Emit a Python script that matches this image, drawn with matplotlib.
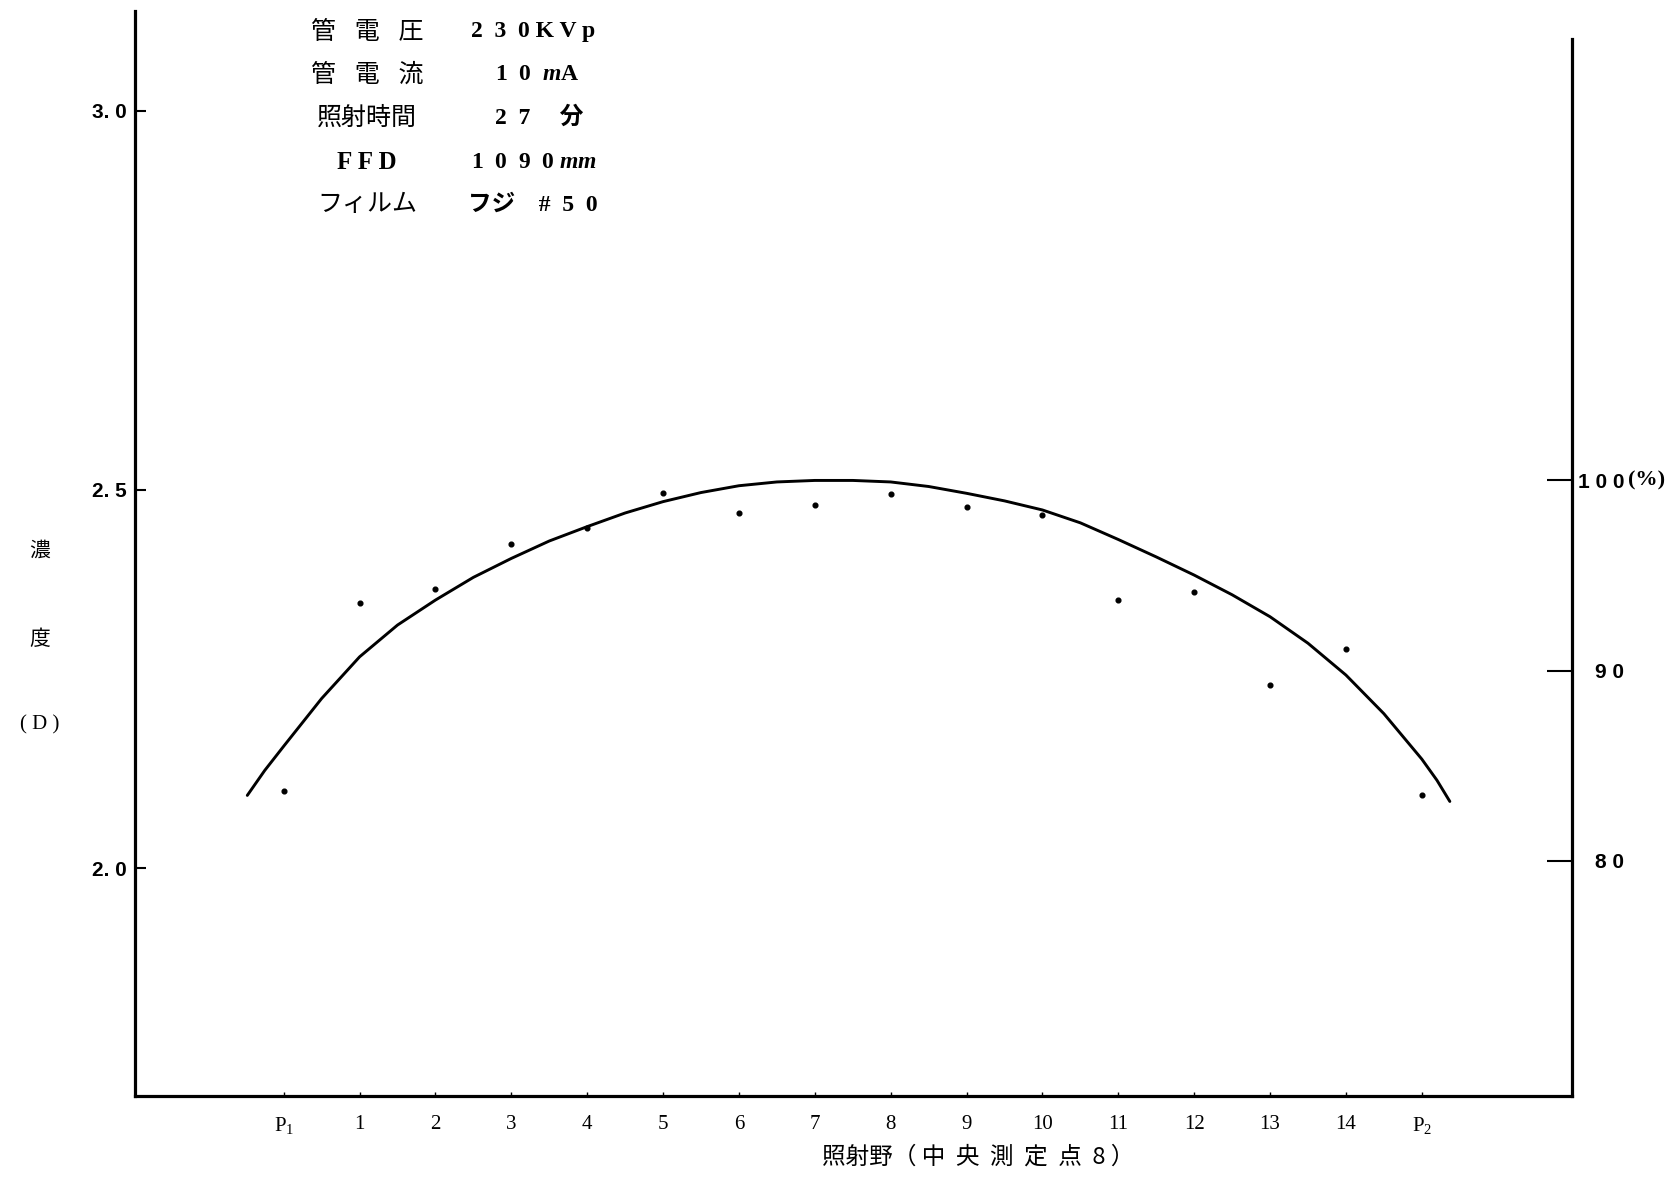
import numpy as np
import matplotlib
matplotlib.use("Agg")
import matplotlib.pyplot as plt

plt.rcParams['font.family'] = ['Liberation Serif', 'Noto Sans CJK JP', 'DejaVu Sans']
plt.rcParams['mathtext.fontset'] = 'custom'
plt.rcParams['mathtext.rm'] = 'Liberation Serif'
plt.rcParams['mathtext.it'] = 'Liberation Serif:italic:bold'

# measuring points P1, 1..14, P2 -> positions 0..15
point_labels = ['$\\mathregular{P_1}$', '1', '2', '3', '4', '5', '6', '7', '8',
                '9', '10', '11', '12', '13', '14', '$\\mathregular{P_2}$']
point_x = list(range(16))
density = [2.102, 2.350, 2.368, 2.428, 2.449, 2.496, 2.469, 2.479, 2.494,
           2.477, 2.466, 2.354, 2.365, 2.242, 2.290, 2.096]

# hand drawn fitted curve
curve_x = [-0.48, -0.25, 0, 0.5, 1, 1.5, 2, 2.5, 3, 3.5, 4, 4.5, 5, 5.5, 6, 6.5,
           7, 7.5, 8, 8.5, 9, 9.5, 10, 10.5, 11, 11.5, 12, 12.5, 13, 13.5, 14,
           14.5, 15, 15.2, 15.37]
curve_d = [2.096, 2.129, 2.161, 2.224, 2.279, 2.321, 2.354, 2.384, 2.409, 2.432,
           2.451, 2.469, 2.484, 2.496, 2.505, 2.510, 2.512, 2.512, 2.510, 2.504,
           2.495, 2.485, 2.473, 2.456, 2.434, 2.411, 2.387, 2.361, 2.332, 2.297,
           2.255, 2.204, 2.144, 2.116, 2.088]

left_ticks = [2.0, 2.5, 3.0]
left_labels = ['2. 0', '2. 5', '3. 0']
right_ticks = [80, 90, 100]
right_labels = ['8 0', '9 0', '1 0 0']
ref_density = 2.512  # = 100 %

info_left = ['管   電   圧', '管   電   流', '照射時間', 'F F D', 'フィルム']
info_right = ['2  3  0 K V p', '1  0  $\\mathit{m}$A', '2  7     分',
              '1  0  9  0 $\\mathit{mm}$', 'フジ    #  5  0']
info_right_x = [471, 495, 495, 471, 468]
info_y = [32, 75, 118, 162, 205]

W, H = 1680, 1185
fig = plt.figure(figsize=(W / 100, H / 100), dpi=100)
ax = fig.add_axes([135 / W, 1 - 1096 / H, (1572 - 135) / W, (1096 - 11) / H])

ylo, yhi = 1.699, 3.132
ax.set_xlim(-1.96, 16.98)
ax.set_ylim(ylo, yhi)

ax.plot(curve_x, curve_d, color='black', lw=2.1, solid_capstyle='round',
        solid_joinstyle='round')
ax.plot(point_x, density, 'o', color='black', ms=3.4)

for s in ['top', 'right']:
    ax.spines[s].set_visible(False)
ax.spines['left'].set_linewidth(2.3)
ax.spines['bottom'].set_linewidth(2.3)

ax.set_yticks(left_ticks)
ax.set_yticklabels(left_labels, fontsize=15, fontweight='bold',
                   family=['Liberation Sans'])
ax.tick_params(axis='y', direction='in', length=8, width=1.5, pad=6)
ax.set_xticks(point_x)
ax.set_xticklabels(point_labels, fontsize=15)
ax.tick_params(axis='x', direction='in', length=3, width=1, pad=14)

ax.set_xlabel('照射野（ 中  央  測  定  点  8 ）', fontsize=17,
              family=['Noto Sans CJK JP'])
ax.xaxis.set_label_coords((978 - 135) / (1572 - 135), -(1157 - 1096) / (1096 - 11))
ax.xaxis.label.set_va('center')

# right axis in percent
ax2 = ax.twinx()
ax2.set_ylim(ylo / ref_density * 100, yhi / ref_density * 100)
for s in ['top', 'left', 'bottom']:
    ax2.spines[s].set_visible(False)
ax2.spines['right'].set_linewidth(2.3)
ax2.spines['right'].set_bounds(ylo / ref_density * 100, 123.2)
ax2.set_yticks(right_ticks)
ax2.set_yticklabels(right_labels, fontsize=15, fontweight='bold',
                    family=['Liberation Sans'])
ax2.tick_params(axis='y', direction='in', length=18, width=1.5, pad=37.5)
for lbl in ax2.get_yticklabels():
    lbl.set_horizontalalignment('right')
ax2.annotate('(%)', xy=(1, 100), xycoords=('axes fraction', 'data'),
             xytext=(40, 0), textcoords='offset points', va='center',
             fontsize=16, fontweight='bold')

# y label stacked vertically
for txt, yy in zip(['濃', '度', '( D )'], [552, 640, 725]):
    fig.text(40 / W, 1 - yy / H, txt, ha='center', va='center', fontsize=15)

# exposure conditions
for lt, rt, rx, yy in zip(info_left, info_right, info_right_x, info_y):
    fig.text(367 / W, 1 - yy / H, lt, ha='center', va='center', fontsize=18,
             fontweight='bold' if lt.isascii() else 'normal')
    fig.text(rx / W, 1 - yy / H, rt, ha='left', va='center', fontsize=17,
             fontweight='bold')

fig.savefig('out.png', dpi=100)
